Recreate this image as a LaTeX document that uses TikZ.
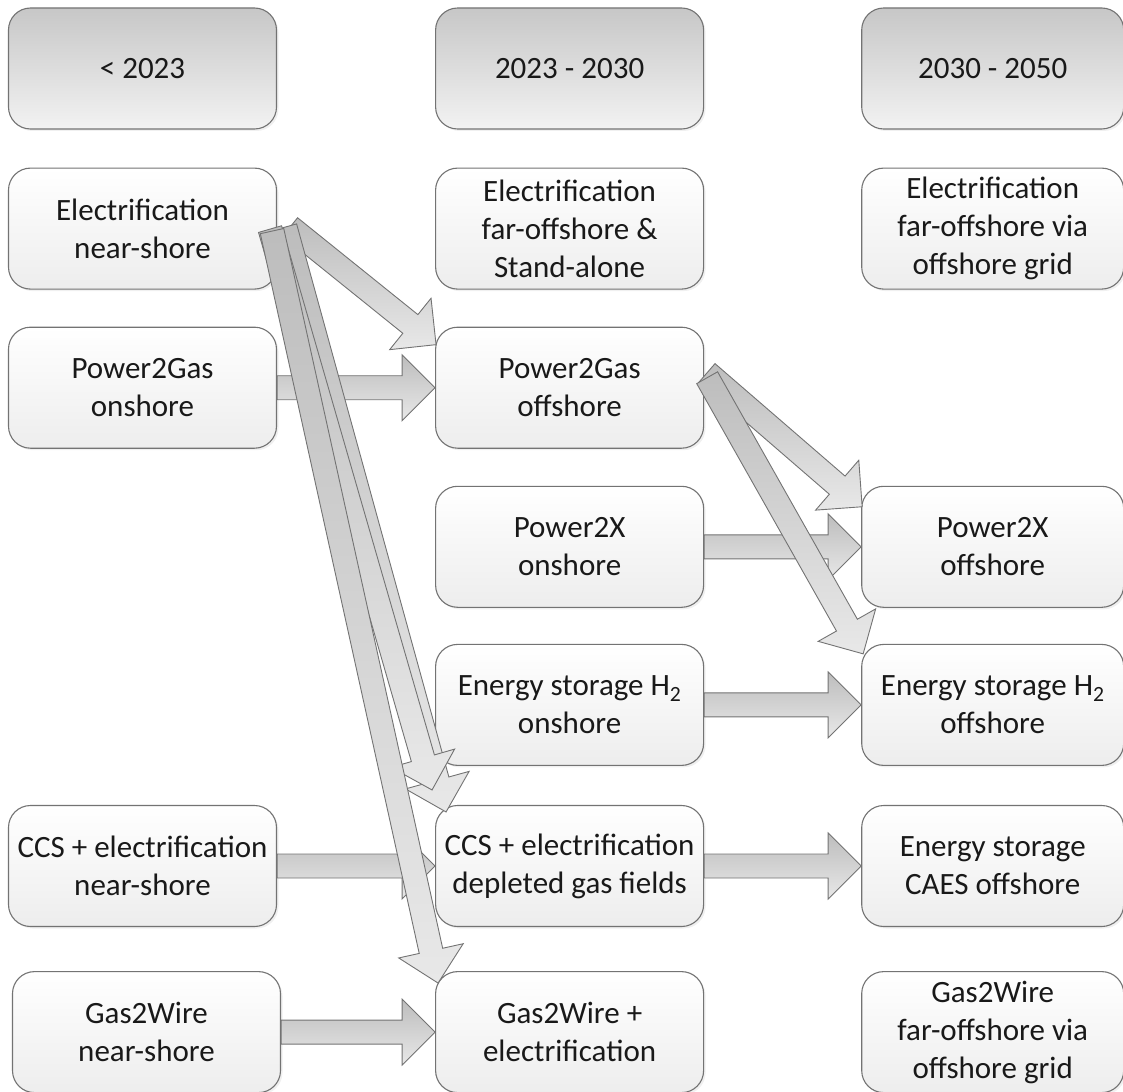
\documentclass[tikz,border=0pt]{standalone}
\usepackage{fontspec}
\setmainfont{Carlito}
\usetikzlibrary{calc,positioning,shadows}

\newcommand{\blockarrow}[2]{%
  \path #1 coordinate (ba-s) #2 coordinate (ba-e);
  \path ($(ba-e)!33pt!(ba-s)$) coordinate (ba-h);
  \draw[flowarrow] ($(ba-s)!12pt!90:(ba-e)$) -- ($(ba-h)!12pt!90:(ba-e)$)
    -- ($(ba-h)!33pt!90:(ba-e)$) -- (ba-e) -- ($(ba-h)!33pt!-90:(ba-e)$)
    -- ($(ba-h)!12pt!-90:(ba-e)$) -- ($(ba-s)!12pt!-90:(ba-e)$) -- cycle;
}

\begin{document}
\begin{tikzpicture}[
  x=1pt, y=-1pt,
  font=\fontsize{31}{38}\selectfont,
  box/.style={draw=black!55, line width=1.1pt, rounded corners=22pt, align=center,
    minimum width=268pt, minimum height=121pt, inner sep=1pt, text=black!90,
    top color=white, bottom color=black!7,
    drop shadow={opacity=0.12, shadow xshift=2pt, shadow yshift=-2pt}},
  period/.style={box, top color=black!22, bottom color=black!5},
  late/.style={minimum width=262pt},
  flowarrow/.style={draw=black!55, line width=0.9pt, top color=black!26, bottom color=black!9}
]
\useasboundingbox (0,0) rectangle (1123,1091);

\node[period] (hdrold) at (142.5,68.5) {< 2023};
\node[period, right=158pt of hdrold] (hdrmid) {2023 - 2030};
\node[period, late, right=157pt of hdrmid] (hdrnew) {2030 - 2050};

\node[box, below=38pt of hdrmid] (elecfar) {Electrification\\far-offshore \&\\Stand-alone};
\node[box, below=37pt of elecfar] (p2goff) {Power2Gas\\offshore};
\node[box, below=37pt of p2goff] (p2xon) {Power2X\\onshore};
\node[box, below=36pt of p2xon] (eson) {Energy storage H\textsubscript{2}\\onshore};
\node[box, below=39pt of eson] (ccsdep) {CCS + electrification\\depleted gas fields};
\node[box, below=44pt of ccsdep] (g2welec) {Gas2Wire +\\electrification};

\node[box, left=158pt of elecfar] (elecnear) {Electrification\\near-shore};
\node[box, left=158pt of p2goff] (p2gon) {Power2Gas\\onshore};
\node[box, left=158pt of ccsdep] (ccsnear) {CCS + electrification\\near-shore};
\node[box, left=154pt of g2welec] (g2wnear) {Gas2Wire\\near-shore};

\node[box, late, right=157pt of elecfar] (elecgrid) {Electrification\\far-offshore via\\offshore grid};
\node[box, late, right=157pt of p2xon] (p2xoff) {Power2X\\offshore};
\node[box, late, right=157pt of eson] (esoff) {Energy storage H\textsubscript{2}\\offshore};
\node[box, late, right=157pt of ccsdep] (caesoff) {Energy storage\\CAES offshore};
\node[box, late, right=157pt of g2welec] (g2wgrid) {Gas2Wire\\far-offshore via\\offshore grid};

\blockarrow{(p2gon.east)}{(p2goff.west)}
\blockarrow{(p2xon.east)}{(p2xoff.west)}
\blockarrow{(eson.east)}{(esoff.west)}
\blockarrow{(ccsnear.east)}{(ccsdep.west)}
\blockarrow{(ccsdep.east)}{(caesoff.west)}
\blockarrow{(g2wnear.east)}{(g2welec.west)}

\blockarrow{([xshift=13pt,yshift=1.5pt]elecnear.east)}{([xshift=1pt,yshift=-18pt]p2goff.north west)}
\blockarrow{([xshift=3pt,yshift=15pt]p2goff.east)}{([xshift=1pt,yshift=-21pt]p2xoff.north west)}
\blockarrow{([xshift=3pt,yshift=10pt]p2goff.east)}{([xshift=2pt,yshift=-10pt]esoff.north west)}

\blockarrow{([xshift=8pt,yshift=1.5pt]elecnear.east)}{([xshift=11pt,yshift=-7pt]ccsdep.north west)}
\blockarrow{([xshift=-7pt,yshift=-0.5pt]elecnear.east)}{([xshift=-3pt,yshift=15pt]ccsdep.north west)}
\blockarrow{([xshift=-5pt,yshift=-2.5pt]elecnear.east)}{([xshift=3pt,yshift=-12pt]g2welec.north west)}
\end{tikzpicture}
\end{document}
